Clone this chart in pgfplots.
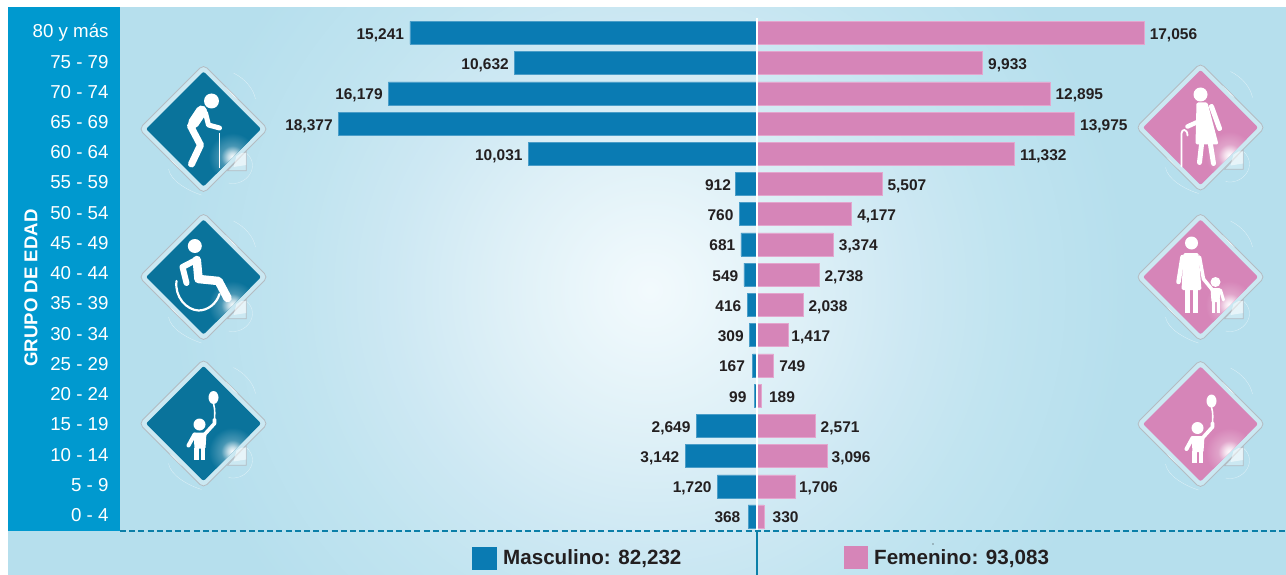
\documentclass[border=0pt]{standalone}
\usepackage{pgfplots}
\usepackage{pgfplotstable}
\usepackage{fontspec}
\setmainfont{Liberation Sans}
\pgfplotsset{compat=1.18}
\definecolor{colblue}{HTML}{0099CF}
\definecolor{male}{HTML}{0A7BB3}
\definecolor{maleedge}{HTML}{4A9DC8}
\definecolor{female}{HTML}{D685B8}
\definecolor{femaleedge}{HTML}{E3A6CE}
\definecolor{icoblue}{HTML}{0A739B}
\definecolor{dashcol}{HTML}{0B7FA8}
\definecolor{txt}{HTML}{231F20}
\definecolor{bgA}{HTML}{F2FAFD}
\definecolor{bgB}{HTML}{ECF7FB}
\definecolor{bgC}{HTML}{DEF0F7}
\definecolor{bgD}{HTML}{CDE8F3}
\definecolor{bgE}{HTML}{C1E4F0}
\definecolor{bgF}{HTML}{B6DFED}
\definecolor{rim}{HTML}{CBE8F2}
\definecolor{rimline}{HTML}{B4BCC2}
\pgfdeclareradialshading{panelbg}{\pgfpointorigin}{color(0bp)=(bgA); color(2.5bp)=(bgB); color(7.5bp)=(bgC); color(13bp)=(bgD); color(17.5bp)=(bgE); color(24bp)=(bgF); color(50bp)=(bgF)}
\pgfdeclareradialshading{glowblue}{\pgfpointorigin}{color(0bp)=(white); color(5bp)=(white!75!icoblue); color(12bp)=(white!25!icoblue); color(25bp)=(icoblue); color(50bp)=(icoblue)}
\pgfdeclareradialshading{glowpink}{\pgfpointorigin}{color(0bp)=(white); color(5bp)=(white!75!female); color(12bp)=(white!25!female); color(25bp)=(female); color(50bp)=(female)}
\pgfplotstableread{
y m f
16 15241 17056
15 10632 9933
14 16179 12895
13 18377 13975
12 10031 11332
11 912 5507
10 760 4177
9 681 3374
8 549 2738
7 416 2038
6 309 1417
5 167 749
4 99 189
3 2649 2571
2 3142 3096
1 1720 1706
0 368 330
}\pyramid
% extra label gaps, one per row, top row first
\newcommand{\gapm}{{0,0,0,0,0,-1,0,0,0,0,0,2,2,0,0,0,2}}
\newcommand{\gapf}{{-0.5,0,0,0,0,0,0,0,0,0,-3,0,2.5,0,-1,-2,3}}
% diamond plate; #1 centre x, #2 centre y, #3 colour, #4 glow shading, #5 pictogram
\newcommand{\plate}[5]{%
  \begin{scope}[shift={(#1,#2)}]
    \draw[white!60!bgF,line width=.3pt] (43,24) .. controls (58,38) and (42,58) .. (25,54);
    \draw[rimline,fill=rim,line width=.7pt] (42.7,22) -- (42.7,41.7) -- (24,41.7) -- cycle;
    \draw[white!60!bgF,line width=.3pt] (30,-56) .. controls (42,-50) and (50,-40) .. (52,-30);
    \draw[white!60!bgF,line width=.3pt] (-35,40) .. controls (-33,52) and (-15,62) .. (-2,66);
    \draw[rimline,fill=rim,line width=.8pt,rounded corners=5pt] (-64.5,0) -- (0,-64.5) -- (64.5,0) -- (0,64.5) -- cycle;
    \begin{scope}
      \clip[rounded corners=2pt] (-57.5,0) -- (0,-57.5) -- (57.5,0) -- (0,57.5) -- cycle;
      \fill[#3] (-60,-60) rectangle (60,60);
      \shade[shading=#4] (29,28) circle (24);
    \end{scope}
    \fill[white,opacity=.8] (22,-42) -- (30,-33) -- (34,-30) -- (26,-38) -- cycle;
    \fill[white,opacity=.7] (-22,42) -- (-30,33) -- (-34,30) -- (-26,38) -- cycle;
    \fill[white,opacity=.55] (33,27) -- (38,24) -- (42.7,24) -- (42.7,36) -- (30,38) -- cycle;
    \begin{scope}[white,fill=white,line cap=round,line join=round]
      #5
    \end{scope}
  \end{scope}}
\newcommand{\oldman}{%
  \fill (8,-28) circle (7.5);
  \draw[line width=11pt] (-2,-18) -- (-10,-6);
  \draw[line width=7pt] (-13,-3) -- (-3,16) -- (-12,35);
  \draw[line width=5pt] (2,-16) -- (5,-4) -- (16,-1);
  \draw[line width=1.6pt,line cap=butt] (16,4) -- (16,39);}
\newcommand{\wheel}{%
  \fill (-8.7,-31) circle (7);
  \draw[line width=8.5pt] (-6.7,-17) -- (-5,2) -- (15,4) -- (24,21);
  \draw[line width=6pt] (-7.5,-17) -- (-21,-10) -- (-17,6);
  \draw[line width=2.2pt] (-27,4) .. controls (-29,20) and (-17,33) .. (-5,33.5) .. controls (4,33.5) and (13,27) .. (16,17);}
\newcommand{\womankid}{%
  \fill (-9,-34) circle (6.5);
  \fill[rounded corners=1.5pt] (-17,-24) -- (-2,-24) -- (1,13) -- (-19,13) -- cycle;
  \draw[line width=4.5pt] (-18,-20) -- (-22,5);
  \draw[line width=3.5pt] (-1,-20) -- (3,2) -- (12,13);
  \draw[line width=4.8pt,line cap=butt] (-13,13) -- (-13,36);
  \draw[line width=4.8pt,line cap=butt] (-5,13) -- (-5,36);
  \fill (15,5) circle (5);
  \fill[rounded corners=1pt] (10,11) -- (20,11) -- (19,25) -- (11,25) -- cycle;
  \draw[line width=3.6pt,line cap=butt] (13,22) -- (13,36);
  \draw[line width=3.6pt,line cap=butt] (18,22) -- (18,36);
  \draw[line width=3pt] (20,13) -- (23,23);}
\newcommand{\oldwoman}{%
  \fill (0,-33) circle (7);
  \fill[rounded corners=1.5pt] (-4,-25) -- (7,-25) -- (18,17) -- (-5,17) -- cycle;
  \draw[line width=5pt] (11,-21) -- (19,1);
  \draw[line width=4.5pt] (0,-15) -- (-2,-6) -- (-13,-1);
  \draw[line width=1.8pt] (-19,39) -- (-19,6) .. controls (-19,1) and (-13,1) .. (-13,8);
  \draw[line width=5pt] (1,17) -- (-1,35);
  \draw[line width=5pt] (10,17) -- (13,36);}
\newcommand{\kid}{%
  \fill (-3,4) circle (6);
  \fill[rounded corners=1pt] (-9,12) -- (4,12) -- (3,28) -- (-8,28) -- cycle;
  \fill (11,-23) ellipse (5 and 6.5);
  \draw[line width=1.6pt] (11,-17) .. controls (13,-10) and (12,-5) .. (12,0);
  \draw[line width=3.6pt] (2,14) -- (12,3) -- (12,-1);
  \draw[line width=4pt] (-8,14) -- (-14,25);
  \draw[line width=4.5pt,line cap=butt] (-6,27) -- (-6,39);
  \draw[line width=4.5pt,line cap=butt] (0.5,27) -- (0.5,39);}
\begin{document}
\begin{tikzpicture}
\useasboundingbox (0,0) rectangle (1286pt,-575pt);
\begin{scope}[x=1pt,y=-1pt]
  \begin{scope}
    \clip (0,0) rectangle (1286,575);
    \fill[bgF] (0,0) rectangle (1286,575);
    \shade[shading=panelbg] (650,290) circle (500);
  \end{scope}
  \fill[white] (0,0) rectangle (1286,7);
  \fill[white] (0,0) rectangle (8,575);
  \fill[colblue] (8,7) rectangle (120,531);
\end{scope}
\begin{axis}[
  at={(120pt,-531pt)},anchor=south west,
  scale only axis,width=1166pt,height=524pt,
  xmin=-27978,xmax=23275,ymin=-0.48,ymax=16.854,
  xbar,bar width=23pt,bar shift=0pt,
  clip=false,
  axis line style={draw=none},
  tick style={draw=none},
  xtick=\empty,
  ytick={0,...,16},
  yticklabels={0 - 4,5 - 9,10 - 14,15 - 19,20 - 24,25 - 29,30 - 34,35 - 39,40 - 44,45 - 49,50 - 54,55 - 59,60 - 64,65 - 69,70 - 74,75 - 79,80 y más},
  yticklabel style={font=\fontsize{18.7}{18.7}\selectfont,text=white,inner sep=0pt,anchor=east,xshift=-7pt,yshift=1.5pt,text height=13pt,text depth=0pt},
  ylabel={GRUPO DE EDAD},
  ylabel style={at={(axis description cs:-0.0763,0.4637)},anchor=center,rotate=0,font=\bfseries\fontsize{18.6}{18.6}\selectfont,text=white},
  point meta=explicit,
  nodes near coords,
  visualization depends on={value \coordindex \as \ci},
  /pgf/number format/.cd,1000 sep={,},assume math mode=true,
]
\addplot[fill=male,draw=maleedge,line width=.5pt,
  nodes near coords style={anchor=east,font=\bfseries\fontsize{15.5}{15.5}\selectfont,text=txt,inner sep=0pt,xshift={-(5.5+\gapm[\ci])*1pt},yshift=-1pt,text height=11pt,text depth=0pt}]
  table[x expr=-\thisrow{m},y=y,meta=m] {\pyramid};
\addplot[fill=female,draw=femaleedge,line width=.5pt,
  nodes near coords style={anchor=west,font=\bfseries\fontsize{15.5}{15.5}\selectfont,text=txt,inner sep=0pt,xshift={(5.5+\gapf[\ci])*1pt},yshift=-1pt,text height=11pt,text depth=0pt}]
  table[x=f,y=y,meta=f] {\pyramid};
\end{axis}
\begin{scope}[x=1pt,y=-1pt]
  \draw[white,line width=1.6pt] (756.7,18) -- (756.7,531);
  \draw[dashcol,line width=1.5pt,dash pattern=on 6pt off 3.2pt] (120,531) -- (1286,531);
  \draw[dashcol,line width=1.6pt] (756.7,531) -- (756.7,575);
  \fill[male] (472,547) rectangle (497,570);
  \node[anchor=west,inner sep=0pt,text=txt,font=\bfseries\fontsize{20.6}{20.6}\selectfont] at (503,558.5) {Masculino: 82,232};
  \fill[female] (844,546) rectangle (868,569);
  \node[anchor=west,inner sep=0pt,text=txt,font=\bfseries\fontsize{20.6}{20.6}\selectfont] at (874,558.5) {Femenino: 93,083};
  \fill[txt] (933,544) circle (.7);
  \plate{203.5}{129}{icoblue}{glowblue}{\oldman}
  \plate{203.5}{277}{icoblue}{glowblue}{\wheel}
  \plate{203.5}{423.5}{icoblue}{glowblue}{\begin{scope}[shift={(-1,-3)}]\kid\end{scope}}
  \plate{1200.5}{127.5}{female}{glowpink}{\oldwoman}
  \plate{1200.5}{277}{female}{glowpink}{\womankid}
  \plate{1200.5}{424}{female}{glowpink}{\kid}
\end{scope}
\end{tikzpicture}
\end{document}
